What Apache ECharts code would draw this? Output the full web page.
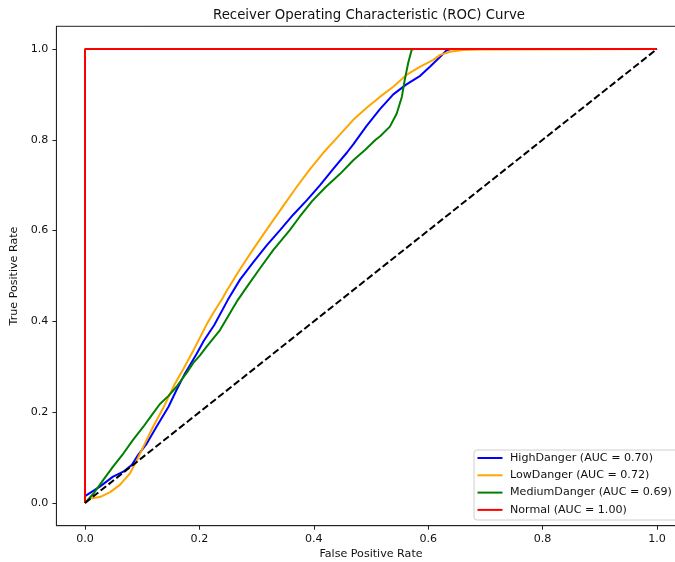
<!DOCTYPE html>
<html>
<head>
<meta charset="utf-8">
<script src="https://cdn.jsdelivr.net/npm/echarts@6/dist/echarts.min.js"></script>
<style>
  html, body { margin: 0; padding: 0; background: #fff; }
  #main { width: 675px; height: 562px; }
</style>
</head>
<body>
<div id="main"></div>
<script>
// ROC 曲线数据
var classNames = ['HighDanger', 'LowDanger', 'MediumDanger', 'Normal'];
var aucValues = [0.70, 0.72, 0.69, 1.00];
var lineColors = ['#0000ff', '#ffa500', '#008000', '#ff0000'];
var tickValues = [0, 0.2, 0.4, 0.6, 0.8, 1.0];

var highFpr = [0, 0, 0.003, 0.026, 0.049, 0.067, 0.082, 0.093, 0.108, 0.125, 0.146, 0.160, 0.175, 0.195,
  0.208, 0.226, 0.250, 0.271, 0.294, 0.318, 0.341, 0.364, 0.388, 0.411, 0.434, 0.458, 0.469, 0.492,
  0.516, 0.539, 0.562, 0.586, 0.603, 0.621, 0.632, 0.640, 1.0];
var highTpr = [0, 0.015, 0.016, 0.036, 0.058, 0.069, 0.084, 0.106, 0.131, 0.168, 0.212, 0.249, 0.286, 0.328,
  0.358, 0.392, 0.448, 0.492, 0.530, 0.568, 0.601, 0.635, 0.667, 0.700, 0.736, 0.772, 0.790, 0.830,
  0.868, 0.900, 0.922, 0.941, 0.961, 0.983, 0.997, 1.0, 1.0];

var lowFpr = [0, 0.009, 0.026, 0.044, 0.061, 0.079, 0.091, 0.105, 0.119, 0.137, 0.157, 0.172, 0.189,
  0.213, 0.224, 0.241, 0.248, 0.271, 0.293, 0.317, 0.347, 0.370, 0.393, 0.417, 0.446, 0.469, 0.492,
  0.516, 0.539, 0.562, 0.586, 0.609, 0.621, 0.638, 0.661, 0.691, 1.0];
var lowTpr = [0, 0.010, 0.013, 0.024, 0.040, 0.066, 0.095, 0.132, 0.168, 0.210, 0.262, 0.295, 0.335,
  0.394, 0.418, 0.452, 0.468, 0.515, 0.557, 0.601, 0.655, 0.696, 0.735, 0.772, 0.812, 0.844, 0.870,
  0.895, 0.917, 0.943, 0.961, 0.976, 0.987, 0.994, 0.998, 0.999, 1.0];

var medFpr = [0, 0.003, 0.015, 0.032, 0.049, 0.067, 0.084, 0.102, 0.117, 0.131, 0.146, 0.160, 0.178,
  0.189, 0.201, 0.213, 0.236, 0.267, 0.283, 0.306, 0.329, 0.358, 0.375, 0.397, 0.420, 0.446, 0.469,
  0.490, 0.508, 0.516, 0.533, 0.545, 0.554, 0.559, 0.565, 0.571, 0.575, 1.0];
var medTpr = [0, 0.003, 0.021, 0.051, 0.080, 0.109, 0.139, 0.168, 0.194, 0.218, 0.236, 0.256, 0.287,
  0.308, 0.325, 0.345, 0.381, 0.447, 0.476, 0.517, 0.557, 0.601, 0.630, 0.665, 0.695, 0.725, 0.755,
  0.778, 0.800, 0.808, 0.829, 0.858, 0.895, 0.932, 0.969, 0.998, 1.0, 1.0];

var normFpr = [0, 0, 1.0];
var normTpr = [0, 1.0, 1.0];

var chanceFpr = [0, 1];
var chanceTpr = [0, 1];

function zip(xs, ys) {
  return xs.map(function (x, i) { return [x, ys[i]]; });
}

var curves = [zip(highFpr, highTpr), zip(lowFpr, lowTpr), zip(medFpr, medTpr), zip(normFpr, normTpr)];
var font = 'DejaVu Sans';

var series = curves.map(function (pts, i) {
  return {
    name: classNames[i] + ' (AUC = ' + aucValues[i].toFixed(2) + ')',
    type: 'line',
    data: pts,
    showSymbol: false,
    symbol: 'none',
    color: lineColors[i],
    lineStyle: { width: 2, color: lineColors[i] },
    z: 2 + i
  };
});
series.push({
  name: 'chance',
  type: 'line',
  data: zip(chanceFpr, chanceTpr),
  showSymbol: false,
  symbol: 'none',
  color: '#000',
  lineStyle: { width: 2, color: '#000', type: [7, 3] },
  z: 10
});

function axisCommon(name, gap, labelMargin) {
  return {
    type: 'value',
    min: -0.05,
    max: 1.05,
    name: name,
    nameLocation: 'middle',
    nameGap: gap,
    nameTextStyle: { fontFamily: font, fontSize: 11.1, color: '#111' },
    splitLine: { show: false },
    axisLine: { show: true, onZero: false, lineStyle: { color: '#222', width: 1 } },
    axisTick: { show: true, inside: false, length: 4, customValues: tickValues, lineStyle: { color: '#222' } },
    axisLabel: {
      customValues: tickValues, margin: labelMargin,
      fontFamily: font, fontSize: 11.1, color: '#111',
      formatter: function (v) { return v.toFixed(1); }
    }
  };
}

var option = {
  animation: false,
  backgroundColor: '#fff',
  title: {
    text: 'Receiver Operating Characteristic (ROC) Curve',
    left: 213,
    top: 9,
    padding: 0,
    textStyle: { fontFamily: font, fontSize: 13.3, fontWeight: 'normal', color: '#111' }
  },
  grid: {
    left: 56.4, top: 26.3, width: 629.2, height: 499.4,
    outerBoundsMode: 'none',
    containLabel: false,
    show: true, borderColor: '#222', borderWidth: 1, backgroundColor: 'transparent'
  },
  legend: {
    data: series.slice(0, 4).map(function (s) { return s.name; }),
    orient: 'vertical',
    left: 474,
    top: 450,
    padding: [1.5, 10, 3.6, 3.5],
    itemGap: 4.3,
    itemWidth: 25,
    itemHeight: 2,
    icon: 'rect',
    selectedMode: false,
    backgroundColor: 'rgba(255,255,255,0.8)',
    borderColor: '#d0d0d0',
    borderWidth: 1,
    borderRadius: 3,
    textStyle: { fontFamily: font, fontSize: 11.1, lineHeight: 13, color: '#111', padding: [0, 0, 0, 2.5] }
  },
  xAxis: axisCommon('False Positive Rate', 21, 7.5),
  yAxis: axisCommon('True Positive Rate', 31, 8),
  series: series
};

var chart = echarts.init(document.getElementById('main'));
chart.setOption(option);
</script>
</body>
</html>
